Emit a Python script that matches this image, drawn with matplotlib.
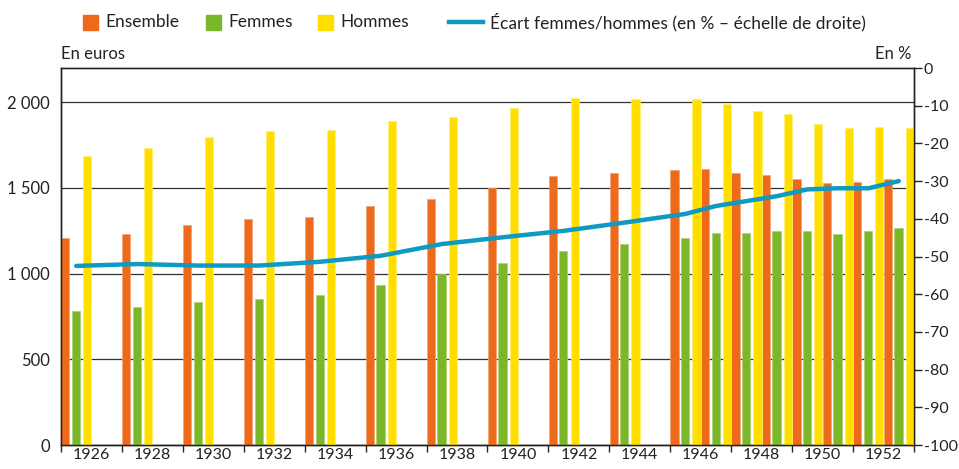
import numpy as np
import matplotlib
matplotlib.use("Agg")
import matplotlib.pyplot as plt
from matplotlib.patches import Rectangle
from matplotlib.lines import Line2D

plt.rcParams['font.family'] = ['Lato', 'DejaVu Sans']
plt.rcParams['font.size'] = 12
plt.rcParams['text.color'] = '#222222'

# data (euros, and % gap)
years = [1926, 1928, 1930, 1932, 1934, 1936, 1938, 1940, 1942, 1944,
         1946, 1947, 1948, 1949, 1950, 1951, 1952, 1953]
ensemble = [1207, 1232, 1283, 1316, 1333, 1394, 1434, 1502, 1570, 1587,
            1605, 1612, 1587, 1578, 1554, 1529, 1537, 1554]
femmes = [783, 808, 833, 853, 876, 936, 996, 1062, 1130, 1173,
          1207, 1240, 1240, 1250, 1250, 1232, 1250, 1266]
hommes = [1686, 1731, 1796, 1831, 1839, 1890, 1915, 1965, 2025, 2017,
          2017, 1992, 1950, 1934, 1872, 1849, 1857, 1849]
ecart = [-52.5, -52.0, -52.4, -52.4, -51.4, -49.8, -46.7, -44.9, -43.2, -41.0,
         -38.7, -36.6, -35.3, -34.0, -32.2, -31.9, -31.9, -30.0]
first_year, last_year = 1926, 1953
label_years = list(range(1926, 1953, 2))

ORANGE = '#EC6A1A'
GREEN = '#7AB829'
YELLOW = '#FFDE00'
BLUE = '#0E9AC2'

fig = plt.figure(figsize=(9.59, 4.69), dpi=100)
ax = fig.add_axes([61/959, 1-445/469, (914-61)/959, (445-68)/469])
ax2 = ax.twinx()

x = np.array(years) - first_year
w = 0.27
ax.bar(x + 0.14, ensemble, w, color=ORANGE, edgecolor='#F4A070', linewidth=0.5, zorder=3)
ax.bar(x + 0.49, femmes, w, color=GREEN, edgecolor='#A8D070', linewidth=0.5, zorder=3)
ax.bar(x + 0.86, hommes, w, color=YELLOW, edgecolor='#FFEE70', linewidth=0.5, zorder=3)

ax.set_xlim(0, last_year - first_year + 1)
ax.set_ylim(0, 2200)
ax.set_yticks([0, 500, 1000, 1500, 2000])
ax.set_yticklabels(['0', '500', '1 000', '1 500', '2 000'])
ax.tick_params(axis='y', length=0, pad=8, labelsize=12, labelcolor='#222222')
ax.yaxis.grid(True, color='#333333', linewidth=0.9, zorder=0)
ax.set_axisbelow(True)

# x axis: tick marks at every two-year boundary, labels centred between
ax.set_xticks([y - first_year for y in range(first_year, last_year + 2, 2)])
ax.set_xticklabels([])
ax.set_xticks([y - first_year + 1 for y in label_years], minor=True)
ax.set_xticklabels([str(y) for y in label_years], minor=True)
ax.tick_params(axis='x', which='major', length=5, width=1, color='#222222', direction='out')
ax.tick_params(axis='x', which='minor', length=0, pad=2, labelsize=11.5, labelcolor='#222222')

ax2.set_ylim(-100, 0)
ax2.set_yticks(range(-100, 1, 10))
ax2.set_yticklabels([str(v) for v in range(-100, 1, 10)])
ax2.tick_params(axis='y', length=6, width=1, pad=1, labelsize=11.5, labelcolor='#222222', color='#222222')
ax2.plot(x + 0.5, ecart, color=BLUE, linewidth=3.2, solid_capstyle='round', zorder=5)

for a in (ax, ax2):
    for s in a.spines.values():
        s.set_color('#222222')
        s.set_linewidth(1)
ax.spines['top'].set_color('#555555')

ax.text(0, 1.015, 'En euros', transform=ax.transAxes, ha='left', va='bottom', fontsize=12)
ax.text(0.997, 1.015, 'En %', transform=ax.transAxes, ha='right', va='bottom', fontsize=12)

# legend drawn by hand to match the spacing of the reference
legend_y = 1 - 22/469
for px, col, lab in [(83, ORANGE, 'Ensemble'), (206, GREEN, 'Femmes'), (318, YELLOW, 'Hommes')]:
    fig.add_artist(Rectangle((px/959, 1 - 30/469), 15/959, 15/469,
                             transform=fig.transFigure, color=col))
    fig.text((px + 22)/959, legend_y, lab, ha='left', va='center', fontsize=12.5)
fig.add_artist(Line2D([449/959, 483/959], [legend_y, legend_y], transform=fig.transFigure,
                      color=BLUE, linewidth=3.2))
fig.text(490/959, legend_y, 'Écart femmes/hommes (en % – échelle de droite)',
         ha='left', va='center', fontsize=12.5)

fig.savefig('out.png', dpi=100)
